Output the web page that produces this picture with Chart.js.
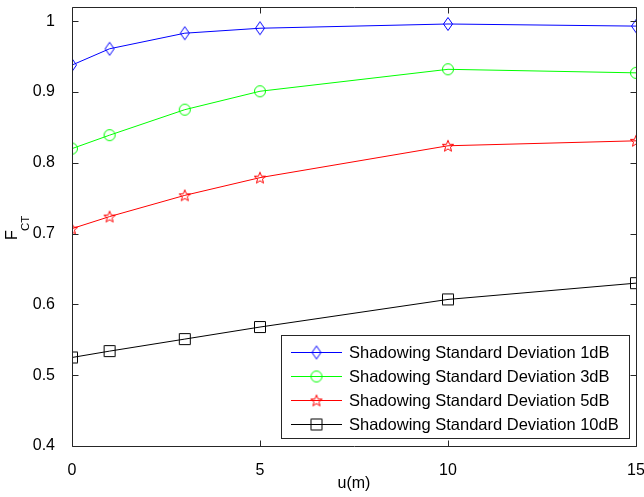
<!DOCTYPE html>
<html>
<head>
<meta charset="utf-8">
<script src="https://cdn.jsdelivr.net/npm/chart.js@4/dist/chart.umd.min.js"></script>
<style>
	html, body { margin: 0; padding: 0; background: #fff; }
	#wrap { width: 644px; height: 497px; position: relative; }
</style>
</head>
<body>
<div id="wrap"><canvas id="chart"></canvas></div>
<script>

const xValues = [0, 1, 3, 5, 10, 15];
const sd1dB = [0.938, 0.961, 0.983, 0.990, 0.996, 0.993];
const sd3dB = [0.820, 0.839, 0.875, 0.901, 0.932, 0.927];
const sd5dB = [0.707, 0.724, 0.754, 0.779, 0.824, 0.831];
const sd10dB = [0.525, 0.534, 0.551, 0.568, 0.607, 0.630];

const seriesLabels = [
	'Shadowing Standard Deviation 1dB',
	'Shadowing Standard Deviation 3dB',
	'Shadowing Standard Deviation 5dB',
	'Shadowing Standard Deviation 10dB',
];

const xTicks = [0, 5, 10, 15];
const yTicks = [0.4, 0.5, 0.6, 0.7, 0.8, 0.9, 1];

const FONT = '"Liberation Sans", Arial, sans-serif';

// matlab style markers, drawn once on small canvases
function makeMarker(kind, color) {
	const c = document.createElement('canvas');
	c.width = 16; c.height = 16;
	const g = c.getContext('2d');
	g.strokeStyle = color;
	g.lineWidth = 1;
	g.beginPath();
	if (kind === 'diamond') {
		g.moveTo(8, 1.5); g.lineTo(12.5, 8); g.lineTo(8, 14.5); g.lineTo(3.5, 8); g.closePath();
	} else if (kind === 'circle') {
		g.arc(8, 8, 5.5, 0, Math.PI * 2);
	} else if (kind === 'square') {
		g.rect(2.5, 2.5, 11, 11);
	} else if (kind === 'star') {
		for (let i = 0; i < 10; i++) {
			const r = i % 2 ? 2.6 : 6;
			const a = -Math.PI / 2 + i * Math.PI / 5;
			const px = 8 + r * Math.cos(a), py = 8.5 + r * Math.sin(a);
			i ? g.lineTo(px, py) : g.moveTo(px, py);
		}
		g.closePath();
	}
	g.stroke();
	return c;
}

const series = [
	{ data: sd1dB, color: '#0000ff', marker: makeMarker('diamond', '#0000ff') },
	{ data: sd3dB, color: '#00ff00', marker: makeMarker('circle', '#00ff00') },
	{ data: sd5dB, color: '#ff0000', marker: makeMarker('star', '#ff0000') },
	{ data: sd10dB, color: '#000000', marker: makeMarker('square', '#000000') },
];

const datasets = series.map((s, i) => ({
	label: seriesLabels[i],
	data: xValues.map((x, j) => ({ x: x, y: s.data[j] })),
	borderColor: s.color,
	borderWidth: 1,
	pointStyle: s.marker,
	pointRadius: 6,
	tension: 0,
	fill: false,
}));

const axesPlugin = {
	id: 'matlabAxes',
	afterDraw(chart) {
		const ctx = chart.ctx;
		const a = chart.chartArea;
		const xs = chart.scales.x, ys = chart.scales.y;
		const L = Math.round(a.left) + 0.5, R = Math.round(a.right) + 0.5;
		const T = Math.round(a.top) + 0.5, B = Math.round(a.bottom) + 0.5;
		ctx.save();
		ctx.strokeStyle = '#262626';
		ctx.lineWidth = 1;
		ctx.beginPath();
		ctx.rect(L, T, R - L, B - T);
		const tl = 6;
		xTicks.forEach(v => {
			const px = Math.round(xs.getPixelForValue(v)) + 0.5;
			ctx.moveTo(px, B); ctx.lineTo(px, B - tl);
			ctx.moveTo(px, T); ctx.lineTo(px, T + tl);
		});
		yTicks.forEach(v => {
			const py = Math.round(ys.getPixelForValue(v)) + 0.5;
			ctx.moveTo(L, py); ctx.lineTo(L + tl, py);
			ctx.moveTo(R, py); ctx.lineTo(R - tl, py);
		});
		ctx.stroke();

		// axis titles
		ctx.fillStyle = '#000';
		ctx.font = '16px ' + FONT;
		ctx.textAlign = 'center';
		ctx.textBaseline = 'middle';
		ctx.fillText('u(m)', (a.left + a.right) / 2, 484);

		ctx.save();
		ctx.translate(17, 240);
		ctx.rotate(-Math.PI / 2);
		ctx.textAlign = 'left';
		ctx.textBaseline = 'alphabetic';
		ctx.font = '16px ' + FONT;
		ctx.fillText('F', 0, 0);
		ctx.font = '11.5px ' + FONT;
		ctx.fillText('CT', 9, 12);
		ctx.restore();

		// legend box inside the axes
		const bx = 281.5, by = 335.5, bw = 348, bh = 103;
		ctx.fillStyle = '#fff';
		ctx.fillRect(bx, by, bw, bh);
		ctx.strokeStyle = '#262626';
		ctx.strokeRect(bx, by, bw, bh);
		ctx.font = '16.5px ' + FONT;
		ctx.textAlign = 'left';
		ctx.textBaseline = 'middle';
		series.forEach((s, i) => {
			const cy = Math.round(352 + i * 24) + 0.5;
			ctx.strokeStyle = s.color;
			ctx.beginPath();
			ctx.moveTo(291, cy); ctx.lineTo(342, cy);
			ctx.stroke();
			ctx.drawImage(s.marker, 316.5 - 8, cy - 8);
			ctx.fillStyle = '#000';
			ctx.fillText(seriesLabels[i], 349, cy + 1);
		});
		ctx.restore();
	}
};

new Chart(document.getElementById('chart'), {
	type: 'line',
	data: { datasets: datasets },
	plugins: [axesPlugin],
	options: {
		responsive: true,
		maintainAspectRatio: false,
		animation: false,
		layout: { padding: { left: 0, top: 6, right: 8, bottom: 0 } },
		plugins: {
			legend: { display: false },
			tooltip: { enabled: false },
		},
		scales: {
			x: {
				type: 'linear',
				min: 0,
				max: 15,
				grid: { display: false },
				border: { display: false },
				afterBuildTicks: s => { s.ticks = xTicks.map(v => ({ value: v })); },
				afterFit: s => {
					s.height = 51;
					s.paddingLeft = 0; s.paddingRight = 0;
				},
				ticks: {
					color: '#000',
					font: { family: FONT, size: 16 },
					padding: 7,
					maxRotation: 0,
				},
			},
			y: {
				min: 0.4,
				max: 1.02,
				grid: { display: false },
				border: { display: false },
				afterBuildTicks: s => { s.ticks = yTicks.map(v => ({ value: v })); },
				afterFit: s => {
					s.width = 72;
					s.paddingTop = 0; s.paddingBottom = 0;
				},
				ticks: {
					color: '#000',
					font: { family: FONT, size: 16 },
					padding: 9,
					callback: v => String(+Number(v).toFixed(1)),
				},
			},
		},
	},
});
</script>
</body>
</html>
